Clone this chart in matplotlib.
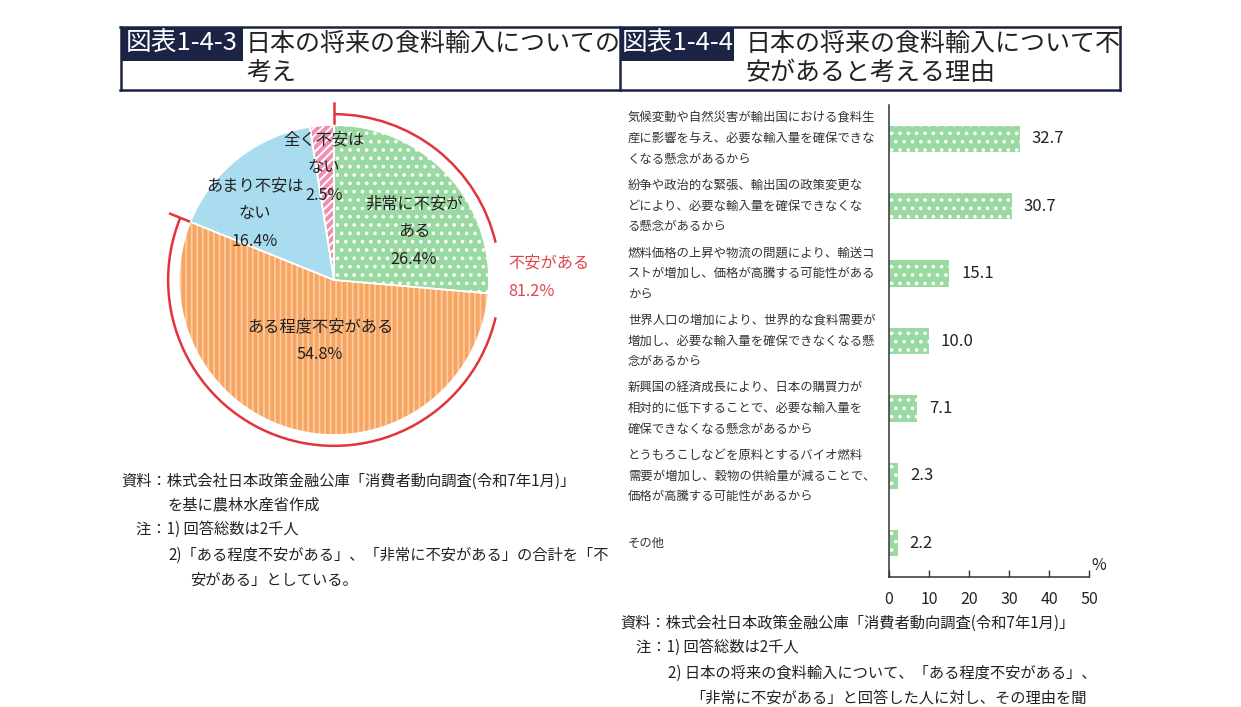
import matplotlib
matplotlib.use('Agg')
import matplotlib.pyplot as plt
import numpy as np
from matplotlib.patches import Arc, Rectangle
from matplotlib.lines import Line2D
from matplotlib.transforms import blended_transform_factory, offset_copy

plt.rcParams['font.family'] = ['Noto Sans CJK JP', 'DejaVu Sans']
plt.rcParams['hatch.linewidth'] = 1.4

# ---- data ----
pie_labels = ['非常に不安が\nある', 'ある程度不安がある', 'あまり不安は\nない', '全く不安は\nない']
pie_values = [26.4, 54.8, 16.4, 2.5]
pie_colors = ['#9ad9a2', '#f7a462', '#a9dcee', '#f08db0']
pie_hatch_colors = ['white', '#fdcb9c', '#a9dcee', 'white']
pie_hatches = ['..', '|||', '', '////']

reasons = [
    '気候変動や自然災害が輸出国における食料生\n産に影響を与え、必要な輸入量を確保できな\nくなる懸念があるから',
    '紛争や政治的な緊張、輸出国の政策変更な\nどにより、必要な輸入量を確保できなくな\nる懸念があるから',
    '燃料価格の上昇や物流の問題により、輸送コ\nストが増加し、価格が高騰する可能性がある\nから',
    '世界人口の増加により、世界的な食料需要が\n増加し、必要な輸入量を確保できなくなる懸\n念があるから',
    '新興国の経済成長により、日本の購買力が\n相対的に低下することで、必要な輸入量を\n確保できなくなる懸念があるから',
    'とうもろこしなどを原料とするバイオ燃料\n需要が増加し、穀物の供給量が減ることで、\n価格が高騰する可能性があるから',
    'その他',
]
reason_values = [32.7, 30.7, 15.1, 10.0, 7.1, 2.3, 2.2]
xticks = [0, 10, 20, 30, 40, 50]

W, H = 1241, 707
fig = plt.figure(figsize=(W / 100, H / 100), dpi=100)

def fx(x):
    return x / W

def fy(y):
    return 1 - y / H

navy = '#1b2444'
red = '#e1353d'

# ---- title band ----
for (x0, y0, x1, y1) in [(120, 27, 1120, 27), (120, 90, 1120, 90),
                         (121, 27, 121, 90), (620, 27, 620, 90), (1120, 27, 1120, 90)]:
    fig.add_artist(Line2D([fx(x0), fx(x1)], [fy(y0), fy(y1)], color=navy, lw=1.8))

for (x0, x1, tag) in [(121, 243, '図表1-4-3'), (621, 734, '図表1-4-4')]:
    fig.add_artist(Rectangle((fx(x0), fy(61)), fx(x1) - fx(x0), fy(28) - fy(61),
                             transform=fig.transFigure, color=navy, lw=0))
    fig.text(fx((x0 + x1) / 2), fy(44), tag, color='white', fontsize=18.5,
             ha='center', va='center')

tfs = 18
fig.text(fx(246), fy(44), '日本の将来の食料輸入についての', fontsize=tfs, va='center', color='#222')
fig.text(fx(246), fy(73), '考え', fontsize=tfs, va='center', color='#222')
fig.text(fx(746), fy(44), '日本の将来の食料輸入について不', fontsize=tfs, va='center', color='#222')
fig.text(fx(746), fy(73), '安があると考える理由', fontsize=tfs, va='center', color='#222')

# ---- pie ----
cx, cy, r = 334, 280, 155
side = 2.4 * r
pax = fig.add_axes([fx(cx - side / 2), fy(cy + side / 2), side / W, side / H])

wedges, _ = pax.pie(pie_values, colors=pie_colors, startangle=90, counterclock=False,
                    hatch=pie_hatches, wedgeprops=dict(linewidth=0))
for w, hc in zip(wedges, pie_hatch_colors):
    w.set_edgecolor(hc)
    w.set_linewidth(0)
pax.pie(pie_values, colors=['none'] * 4, startangle=90, counterclock=False,
        wedgeprops=dict(edgecolor='white', linewidth=1.2))
pax.set_xlim(-1.2, 1.2)
pax.set_ylim(-1.2, 1.2)
pax.set_aspect('equal')
pax.axis('off')

def pd(px, py):
    return (px - cx) / r, (cy - py) / r

label_pos = [(414, 204), (320, 327), (255, 186), (324, 140)]
for lab, val, (lx, ly) in zip(pie_labels, pie_values, label_pos):
    lines = lab.split('\n') + ['%.1f%%' % val]
    for k, s in enumerate(lines):
        x, y = pd(lx, ly + k * 27.5)
        pax.text(x, y, s, fontsize=11.7, ha='center', va='center', color='#222')

# red bracket for 不安がある
anxious = pie_values[0] + pie_values[1]
end_ang = 90 - 360 * anxious / sum(pie_values) + 360
ra = 1.07
pax.add_patch(Arc((0, 0), 2 * ra, 2 * ra, theta1=13, theta2=90, color=red, lw=1.8))
pax.add_patch(Arc((0, 0), 2 * ra, 2 * ra, theta1=end_ang, theta2=347, color=red, lw=1.8))
for ang in [90, end_ang]:
    a = np.deg2rad(ang)
    pax.plot([1.01 * np.cos(a), 1.14 * np.cos(a)], [1.01 * np.sin(a), 1.14 * np.sin(a)],
             color=red, lw=1.8, clip_on=False)
x, y = pd(508, 263)
pax.text(x, y, '不安がある', color='#e0474c', fontsize=11.7, ha='left', va='center')
x, y = pd(508, 291)
pax.text(x, y, '%.1f%%' % anxious, color='#e0474c', fontsize=11.7, ha='left', va='center')

# ---- bar chart ----
bax = fig.add_axes([fx(889), fy(577), 200 / W, 472 / H])
ypos = list(range(len(reasons)))
bax.barh(ypos, reason_values, height=0.39, color='#9ad9a2', edgecolor='white',
         linewidth=0, hatch='..')
bax.set_xlim(0, 50)
bax.set_ylim(len(reasons) - 0.5, -0.5)
bax.set_xticks(xticks)
bax.tick_params(axis='x', direction='in', length=5, width=1, color='#333',
                labelsize=11.5, pad=10, labelcolor='#222')
bax.set_yticks([])
for s in ['top', 'right']:
    bax.spines[s].set_visible(False)
for s in ['left', 'bottom']:
    bax.spines[s].set_color('#333')
    bax.spines[s].set_linewidth(1.1)

for yv, v in zip(ypos, reason_values):
    bax.text(v + 3, yv, '%.1f' % v, fontsize=12, va='center', ha='left', color='#222')

base = blended_transform_factory(bax.transAxes, bax.transData)
lx = (628 - 889) / 200
for yv, txt in zip(ypos, reasons):
    lines = txt.split('\n')
    n = len(lines)
    for k, s in enumerate(lines):
        tr = offset_copy(base, fig=fig, x=0, y=-(k - (n - 1) / 2) * 20.8, units='dots')
        bax.text(lx, yv, s, transform=tr, fontsize=8.9, ha='left', va='center', color='#333')

fig.text(fx(1091), fy(565), '%', fontsize=11.5, va='center', ha='left', color='#222')

# ---- notes ----
note_fs = 11
fig.text(fx(121), fy(481), '資料：株式会社日本政策金融公庫「消費者動向調査(令和7年1月)」', fontsize=note_fs, va='center', color='#222')
fig.text(fx(168), fy(505), 'を基に農林水産省作成', fontsize=note_fs, va='center', color='#222')
fig.text(fx(136), fy(529), '注：1) 回答総数は2千人', fontsize=note_fs, va='center', color='#222')
fig.text(fx(168), fy(555), '2)「ある程度不安がある」、「非常に不安がある」の合計を「不', fontsize=note_fs, va='center', color='#222')
fig.text(fx(190), fy(580), '安がある」としている。', fontsize=note_fs, va='center', color='#222')

fig.text(fx(620), fy(623), '資料：株式会社日本政策金融公庫「消費者動向調査(令和7年1月)」', fontsize=note_fs, va='center', color='#222')
fig.text(fx(636), fy(647), '注：1) 回答総数は2千人', fontsize=note_fs, va='center', color='#222')
fig.text(fx(668), fy(673), '2) 日本の将来の食料輸入について、「ある程度不安がある」、', fontsize=note_fs, va='center', color='#222')
fig.text(fx(690), fy(698), '「非常に不安がある」と回答した人に対し、その理由を聞', fontsize=note_fs, va='center', color='#222')

fig.savefig('out.png', dpi=100, facecolor='white')
